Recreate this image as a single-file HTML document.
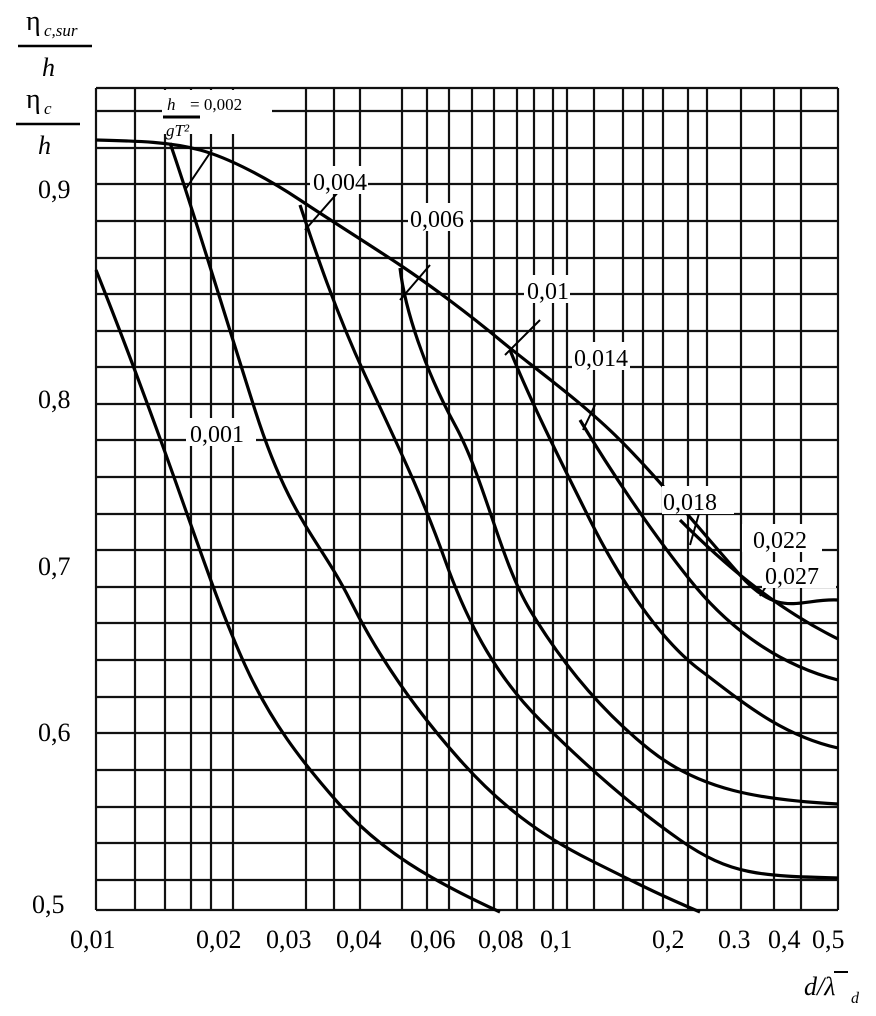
<!DOCTYPE html>
<html><head><meta charset="utf-8"><style>
body{margin:0;background:#fff}
svg{display:block}
text{font-family:"Liberation Serif",serif;fill:#000}
</style></head><body>
<svg width="876" height="1016" viewBox="0 0 876 1016" xmlns="http://www.w3.org/2000/svg">
<g stroke="#111" stroke-width="2.2" fill="none">
<path d="M96 88V910M135 88V910M165 88V910M191 88V910M211 88V910M233 88V910M306 88V910M334 88V910M360 88V910M402 88V910M427 88V910M449 88V910M472 88V910M494 88V910M517 88V910M534 88V910M553 88V910M567 88V910M594 88V910M623 88V910M643 88V910M663 88V910M688 88V910M707 88V910M741 88V910M774 88V910M801 88V910M838 88V910"/>
<path d="M96 88H838M96 111H838M96 148H838M96 184H838M96 221H838M96 258H838M96 294H838M96 331H838M96 367H838M96 404H838M96 440H838M96 477H838M96 514H838M96 550H838M96 587H838M96 623H838M96 660H838M96 697H838M96 733H838M96 770H838M96 807H838M96 843H838M96 880H838M96 910H838"/>
</g>
<g stroke="#000" stroke-width="3.2" fill="none" stroke-linejoin="round">
<path d="M96 140C140 141 170 142 200 150S270 180 300 200 370 245 400 265 470 315 500 340 580 400 620 440 700 530 740 575 800 598 838 600"/>
<path d="M96 270C120 330 150 410 175 480S220 610 245 665 300 760 340 805 430 880 500 912"/>
<path d="M170 143C190 200 220 300 255 410S320 540 350 600 420 715 460 760 540 835 590 860 660 895 700 912"/>
<path d="M300 205C315 250 335 310 365 375S420 490 445 560 500 680 540 720 630 805 680 840 760 876 838 878"/>
<path d="M400 268C405 310 425 370 455 425S500 560 530 610 600 710 650 750 760 800 838 804"/>
<path d="M510 350C530 400 560 460 590 520S660 640 700 670 780 735 838 748"/>
<path d="M580 420C610 470 650 530 690 580S780 665 838 680"/>
<path d="M680 520C720 560 770 605 838 639"/>
</g>
<g stroke="#000" stroke-width="2" fill="none">
<path d="M185 190L212 150M305 230L340 190M400 300L430 265M505 355L540 320M583 430L595 405M690 545L700 510M760 596L770 580"/>
</g>
<g font-size="24">
<rect x="162" y="90" width="110" height="44" fill="#fff"/>
<text x="167" y="110" font-size="17" font-style="italic">h</text>
<text x="190" y="110" font-size="17">= 0,002</text>
<line x1="163" y1="117" x2="200" y2="117" stroke="#000" stroke-width="3"/>
<text x="166" y="136" font-size="17" font-style="italic">gT²</text>
<rect x="310" y="166" width="58" height="28" fill="#fff"/><text x="313" y="190">0,004</text>
<rect x="408" y="203" width="62" height="28" fill="#fff"/><text x="410" y="227">0,006</text>
<rect x="524" y="275" width="46" height="28" fill="#fff"/><text x="527" y="299">0,01</text>
<rect x="572" y="342" width="58" height="28" fill="#fff"/><text x="574" y="366">0,014</text>
<rect x="186" y="418" width="70" height="28" fill="#fff"/><text x="190" y="442">0,001</text>
<rect x="662" y="486" width="72" height="28" fill="#fff"/><text x="663" y="510">0,018</text>
<rect x="742" y="524" width="80" height="28" fill="#fff"/><text x="753" y="548">0,022</text>
<rect x="762" y="562" width="74" height="26" fill="#fff"/><text x="765" y="584">0,027</text>
</g>
<g font-size="26">
<text x="38" y="198">0,9</text><text x="38" y="408">0,8</text><text x="38" y="575">0,7</text><text x="38" y="741">0,6</text><text x="32" y="913">0,5</text>
<text x="70" y="948">0,01</text><text x="196" y="948">0,02</text><text x="266" y="948">0,03</text><text x="336" y="948">0,04</text><text x="410" y="948">0,06</text><text x="478" y="948">0,08</text><text x="540" y="948">0,1</text><text x="652" y="948">0,2</text><text x="718" y="948">0.3</text><text x="768" y="948">0,4</text><text x="812" y="948">0,5</text>
<text x="804" y="995" font-style="italic">d/λ</text><text x="851" y="1003" font-size="16" font-style="italic">d</text>
<line x1="834" y1="972" x2="848" y2="972" stroke="#000" stroke-width="2"/>
<text x="26" y="30" font-size="28">η</text><text x="44" y="36" font-size="17" font-style="italic">c,sur</text>
<line x1="18" y1="46" x2="92" y2="46" stroke="#000" stroke-width="2.5"/>
<text x="42" y="76" font-style="italic">h</text>
<text x="26" y="108" font-size="28">η</text><text x="44" y="114" font-size="17" font-style="italic">c</text>
<line x1="16" y1="124" x2="80" y2="124" stroke="#000" stroke-width="2.5"/>
<text x="38" y="154" font-style="italic">h</text>
</g>
</svg>
</body></html>
